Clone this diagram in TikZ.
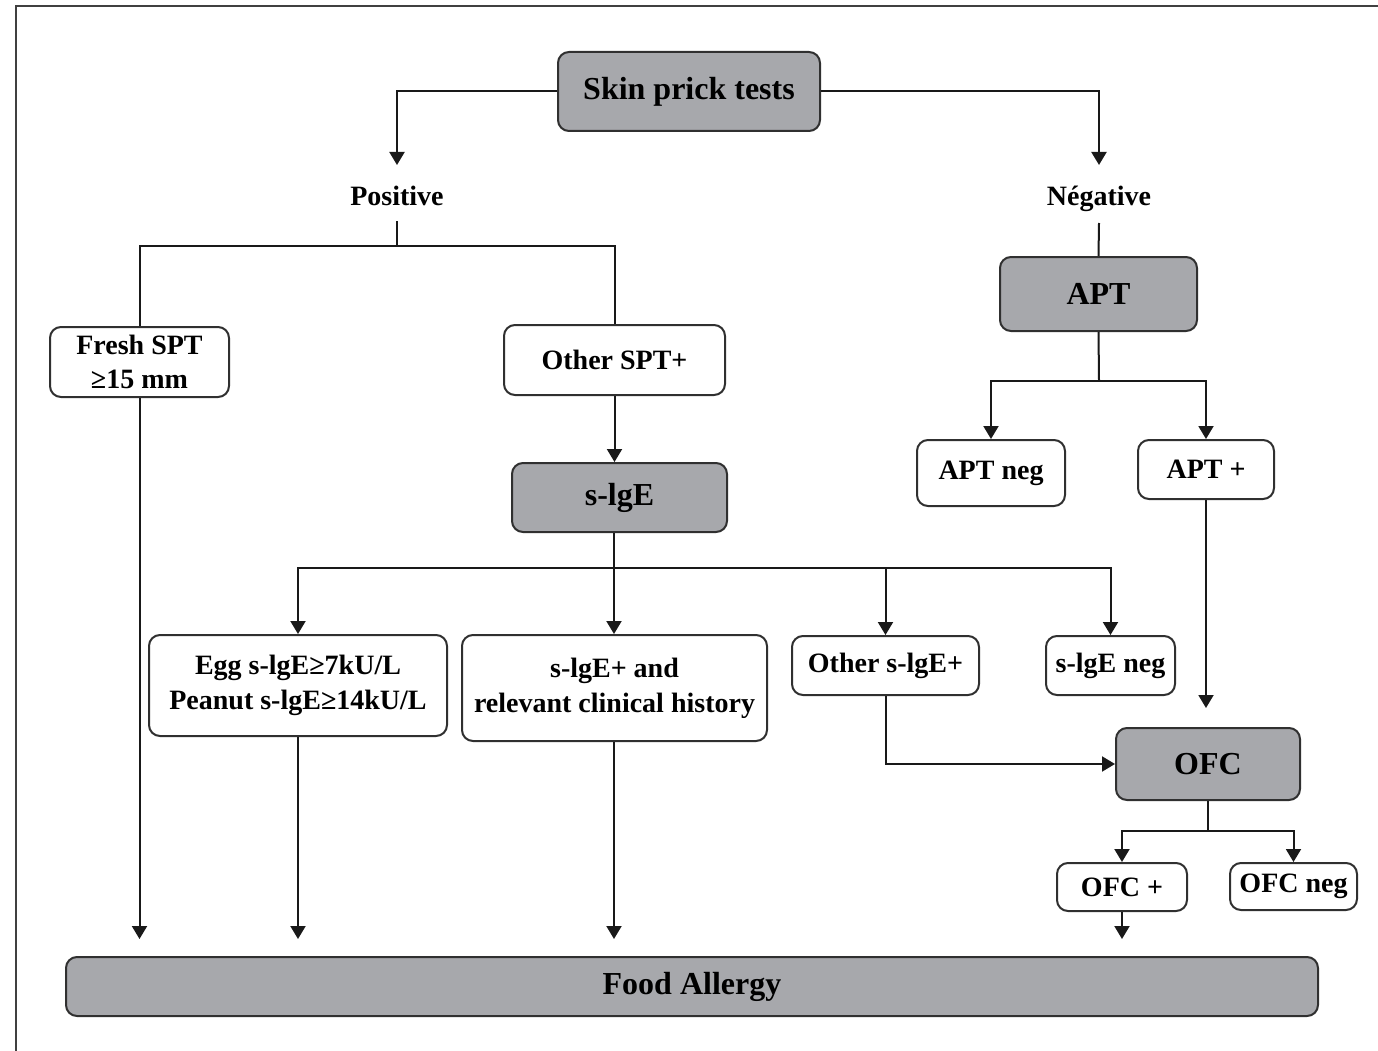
\documentclass[tikz,border=0pt]{standalone}
\usepackage{fontspec}
\setmainfont{Liberation Serif}
\usetikzlibrary{arrows.meta}
\definecolor{boxgray}{HTML}{A7A8AC}
\definecolor{edge}{HTML}{303030}
\begin{document}
\begin{tikzpicture}[x=1pt,y=-1pt,
  graybox/.style={draw=edge, line width=2pt, rounded corners=11pt, fill=boxgray, inner sep=0pt,
    font=\bfseries\fontsize{32}{36}\selectfont, align=center},
  whitebox/.style={draw=edge, line width=2pt, rounded corners=11pt, fill=white, inner sep=0pt,
    font=\bfseries\fontsize{28}{35}\selectfont, align=center},
  lbl/.style={inner sep=0pt, anchor=base, font=\bfseries\fontsize{28}{34}\selectfont},
  conn/.style={line width=2pt, draw=black!90},
  arr/.style={conn, -{Triangle[width=15pt,length=13pt]}}]
\useasboundingbox (0,0) rectangle (1378,1051);
\draw[line width=2.5pt, black!75] (16,1051) -- (16,6) -- (1378,6);

% nodes
\node[graybox, minimum width=262, minimum height=79] (spt) at (689,91.5) {Skin prick tests};
\node[lbl] (pos) at (397,205) {Positive};
\node[lbl] (neg) at (1099,205) {Négative};
\node[whitebox, minimum width=179, minimum height=70] (fresh) at (139.5,362) {Fresh SPT\\[-1pt] ≥15 mm};
\node[whitebox, minimum width=221, minimum height=70] (other) at (614.5,360) {Other SPT+};
\node[graybox, minimum width=215, minimum height=69] (sige) at (619.5,497.5) {s-lgE};
\node[whitebox, minimum width=298, minimum height=101] (egg) at (298,685.5) {Egg s-lgE≥7kU/L\\ Peanut s-lgE≥14kU/L};
\node[whitebox, minimum width=305, minimum height=106] (rel) at (614.5,688) {s-lgE+ and\\ relevant clinical history};
\node[whitebox, minimum width=187, minimum height=59] (oth2) at (885.5,665.5) {Other s-lgE+};
\node[whitebox, minimum width=129, minimum height=59] (sneg) at (1110.5,665.5) {s-lgE neg};
\node[graybox, minimum width=197, minimum height=74] (apt) at (1098.5,294) {APT};
\node[whitebox, minimum width=148, minimum height=66] (aptneg) at (991,473) {APT neg};
\node[whitebox, minimum width=136, minimum height=59] (aptpos) at (1206,469.5) {APT +};
\node[graybox, minimum width=184, minimum height=72] (ofc) at (1208,764) {OFC};
\node[whitebox, minimum width=130, minimum height=48] (ofcpos) at (1122,887) {OFC +};
\node[whitebox, minimum width=127, minimum height=47] (ofcneg) at (1293.5,886.5) {OFC neg};
\node[graybox, minimum width=1252, minimum height=59] (fa) at (692,986.5) {Food Allergy};

% junction coordinates
\coordinate (pa) at (397,165);
\coordinate (na) at (1099,165);
\coordinate (posb) at (397,221);
\coordinate (pj) at (397,246);
\coordinate (sj) at (614,568);
\coordinate (negb) at (1099,223);
\coordinate (aj) at (1099,381);
\coordinate (oj) at (1208,831);

% connectors
\draw[arr] (spt.west) -| (pa);
\draw[arr] (spt.east) -| (na);
\draw[conn] (posb) -- (pj);
\draw[conn] (fresh.north) |- (pj) -| (other.north);
\draw[arr] (other.south) -- (other.south |- sige.north);
\draw[conn] (sige.south -| sj) -- (sj);
\draw[arr] (sj) -| (egg.north);
\draw[arr] (sj) -- (sj |- rel.north);
\draw[arr] (sj) -| (oth2.north);
\draw[arr] (sj) -| (sneg.north);
\draw[arr] (oth2.south) |- (ofc.west);
\draw[conn] (negb) -- (apt.north);
\draw[conn] (apt.south) -- (aj);
\draw[arr] (aj) -| (aptneg.north);
\draw[arr] (aj) -| (aptpos.north);
\draw[arr, shorten >=19pt] (aptpos.south) -- (aptpos.south |- ofc.north);
\draw[conn] (ofc.south) -- (oj);
\draw[arr] (oj) -| (ofcpos.north);
\draw[arr] (oj) -| (ofcneg.north);
\draw[arr, shorten >=17pt] (ofcpos.south) -- (ofcpos.south |- fa.north);
\draw[arr, shorten >=17pt] (fresh.south) -- (fresh.south |- fa.north);
\draw[arr, shorten >=17pt] (egg.south) -- (egg.south |- fa.north);
\draw[arr, shorten >=17pt] (rel.south -| sj) -- (sj |- fa.north);
\end{tikzpicture}
\end{document}
